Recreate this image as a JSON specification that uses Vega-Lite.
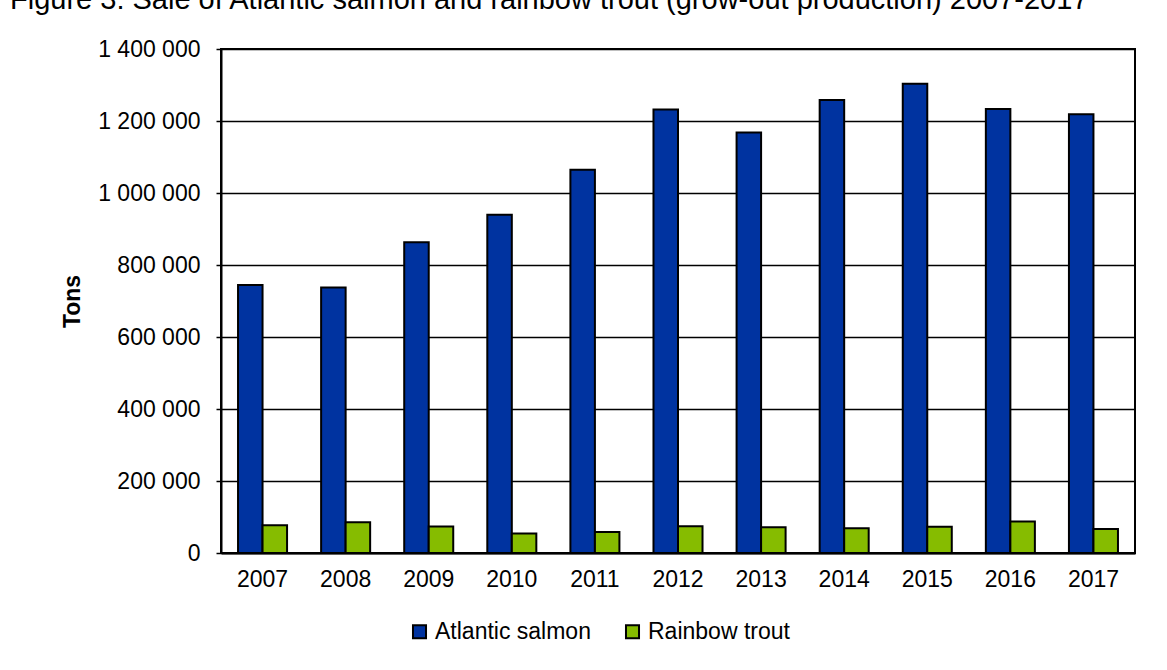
{
  "$schema": "https://vega.github.io/schema/vega-lite/v6.json",
  "autosize": {"type": "none"},
  "width": 914,
  "height": 504,
  "padding": {"left": 221, "top": 49, "right": 32, "bottom": 117},
  "background": "white",
  "title": {
    "text": "Figure 3: Sale of Atlantic salmon and rainbow trout (grow-out production) 2007-2017",
    "anchor": "start",
    "frame": "group",
    "dx": -211,
    "fontSize": 29,
    "font": "Liberation Sans",
    "fontWeight": "normal",
    "color": "black",
    "baseline": "alphabetic",
    "offset": 0
  },
  "data": {
    "values": [
      {"year": "2007", "species": "Atlantic salmon", "tons": 744222},
      {"year": "2008", "species": "Atlantic salmon", "tons": 737694},
      {"year": "2009", "species": "Atlantic salmon", "tons": 862908},
      {"year": "2010", "species": "Atlantic salmon", "tons": 939575},
      {"year": "2011", "species": "Atlantic salmon", "tons": 1064868},
      {"year": "2012", "species": "Atlantic salmon", "tons": 1232095},
      {"year": "2013", "species": "Atlantic salmon", "tons": 1168324},
      {"year": "2014", "species": "Atlantic salmon", "tons": 1258356},
      {"year": "2015", "species": "Atlantic salmon", "tons": 1303346},
      {"year": "2016", "species": "Atlantic salmon", "tons": 1233619},
      {"year": "2017", "species": "Atlantic salmon", "tons": 1219000},
      {"year": "2007", "species": "Rainbow trout", "tons": 77381},
      {"year": "2008", "species": "Rainbow trout", "tons": 85176},
      {"year": "2009", "species": "Rainbow trout", "tons": 73926},
      {"year": "2010", "species": "Rainbow trout", "tons": 54451},
      {"year": "2011", "species": "Rainbow trout", "tons": 58472},
      {"year": "2012", "species": "Rainbow trout", "tons": 74583},
      {"year": "2013", "species": "Rainbow trout", "tons": 71449},
      {"year": "2014", "species": "Rainbow trout", "tons": 68910},
      {"year": "2015", "species": "Rainbow trout", "tons": 72922},
      {"year": "2016", "species": "Rainbow trout", "tons": 87446},
      {"year": "2017", "species": "Rainbow trout", "tons": 66902}
    ]
  },
  "mark": {"type": "bar", "stroke": "black", "strokeWidth": 2},
  "encoding": {
    "x": {
      "field": "year",
      "type": "nominal",
      "scale": {"paddingInner": 0.41, "paddingOuter": 0.205},
      "axis": {
        "title": null,
        "labelAngle": 0,
        "labelFont": "Liberation Sans",
        "labelFontSize": 23,
        "labelColor": "black",
        "labelPadding": 15,
        "ticks": false,
        "domainColor": "black",
        "domainWidth": 2
      }
    },
    "xOffset": {"field": "species", "type": "nominal", "scale": {"paddingInner": 0, "paddingOuter": 0}},
    "y": {
      "field": "tons",
      "type": "quantitative",
      "scale": {"domain": [0, 1400000], "nice": false},
      "axis": {
        "title": "Tons",
        "titleFont": "Liberation Sans",
        "titleFontSize": 23,
        "titleFontWeight": "bold",
        "titleColor": "black",
        "titlePadding": 13,
        "values": [0, 200000, 400000, 600000, 800000, 1000000, 1200000, 1400000],
        "labelExpr": "replace(format(datum.value, ','), /,/g, ' ')",
        "labelFont": "Liberation Sans",
        "labelFontSize": 23,
        "labelColor": "black",
        "labelPadding": 16,
        "tickSize": 5,
        "tickColor": "black",
        "tickWidth": 1.5,
        "domainColor": "black",
        "domainWidth": 2,
        "grid": true,
        "gridColor": "black",
        "gridWidth": 1.5
      }
    },
    "color": {
      "field": "species",
      "type": "nominal",
      "scale": {"domain": ["Atlantic salmon", "Rainbow trout"], "range": ["#0033a0", "#86bc00"]},
      "legend": {
        "title": null,
        "orient": "none",
        "direction": "horizontal",
        "legendX": 187,
        "legendY": 571,
        "symbolType": "square",
        "symbolSize": 170,
        "symbolStrokeColor": "black",
        "symbolStrokeWidth": 2,
        "symbolOpacity": 1,
        "labelFont": "Liberation Sans",
        "labelFontSize": 23,
        "labelColor": "black",
        "labelOffset": 4,
        "columnPadding": 30
      }
    }
  },
  "config": {
    "view": {"stroke": "black", "strokeWidth": 2}
  }
}
